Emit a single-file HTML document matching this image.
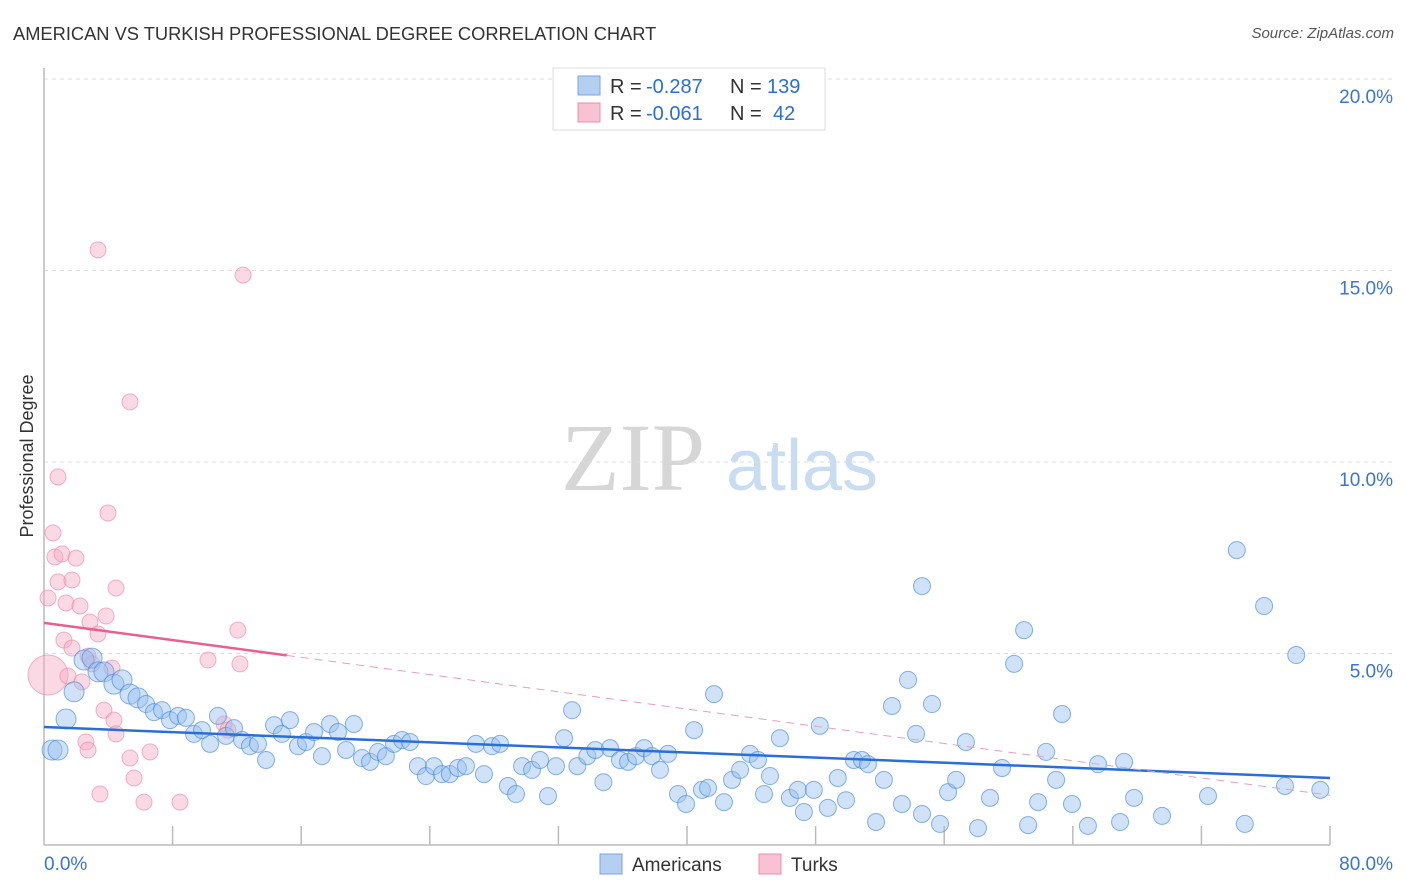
<!DOCTYPE html>
<html><head><meta charset="utf-8">
<style>
body{margin:0;background:#fff;font-family:"Liberation Sans",sans-serif;}
#wrap{position:relative;width:1406px;height:892px;overflow:hidden;}
.t{position:absolute;white-space:nowrap;}
</style></head>
<body>
<div id="wrap">
<div class="t" style="left:13px;top:23px;font-size:18.3px;color:#333;">AMERICAN VS TURKISH PROFESSIONAL DEGREE CORRELATION CHART</div>
<div class="t" style="right:12px;top:25px;font-size:15px;color:#555;font-style:italic;">Source: ZipAtlas.com</div>
<svg id="svg" width="1406" height="892" style="position:absolute;left:0;top:0"></svg>
</div>
<script>
const yTicks=[5,10,15,20];
const xTickLabels=["0.0%","80.0%"];
const amerX=[0.5,0.87,1.37,1.87,2.49,2.99,3.36,3.73,4.35,4.85,5.35,5.85,6.35,6.84,7.34,7.84,8.34,8.83,9.33,9.83,10.33,10.82,11.32,11.82,12.32,12.81,13.31,13.81,14.31,14.8,15.3,15.8,16.3,16.8,17.29,17.79,18.29,18.79,19.28,19.78,20.28,20.78,21.27,21.77,22.27,22.77,23.26,23.76,24.26,24.76,25.25,25.75,26.25,26.87,27.37,27.87,28.37,28.86,29.36,29.74,30.36,30.86,31.35,31.85,32.35,32.85,33.18,33.8,34.3,34.8,35.21,35.83,36.33,36.83,37.33,37.82,38.32,38.82,39.44,39.94,40.44,40.93,41.31,41.68,42.3,42.8,43.3,43.92,44.41,44.79,45.16,45.78,46.4,46.9,47.27,47.89,48.26,48.76,49.38,49.89,50.38,50.88,51.26,51.76,52.25,52.75,53.37,53.75,54.25,54.62,55.24,55.74,56.24,56.74,54.62,57.35,58.1,58.85,59.6,60.35,60.97,61.22,61.84,62.34,62.96,63.33,63.95,64.94,65.57,66.94,67.19,67.81,69.55,72.41,74.2,74.7,75.9,77.2,77.9,79.4];
const amerY=[2.48,2.48,3.29,4.0,4.83,4.88,4.52,4.52,4.2,4.31,3.94,3.84,3.68,3.47,3.52,3.26,3.37,3.32,2.9,3.0,2.64,3.37,2.85,3.05,2.74,2.58,2.64,2.22,3.13,2.9,3.26,2.58,2.69,2.95,2.32,3.16,2.95,2.48,3.16,2.27,2.17,2.43,2.32,2.64,2.74,2.69,2.06,1.8,2.06,1.85,1.85,2.01,2.06,2.64,1.85,2.58,2.64,1.54,1.33,2.06,1.96,2.22,1.28,2.06,2.79,3.52,2.06,2.32,2.48,1.64,2.53,2.22,2.17,2.32,2.53,2.32,1.96,2.38,1.33,1.07,3.0,1.44,1.49,3.94,1.12,1.7,1.96,2.38,2.22,1.33,1.8,2.79,1.23,1.44,0.86,1.44,3.11,0.97,1.75,1.17,2.22,2.22,2.11,0.6,1.7,3.63,1.07,4.31,2.9,0.81,3.68,0.55,1.38,1.7,6.76,2.69,0.44,1.23,2.01,4.73,5.61,0.52,1.12,2.43,1.7,3.42,1.07,0.5,2.11,0.6,2.17,1.23,0.76,1.28,7.7,0.55,6.24,1.54,4.96,1.44];
const turkX=[0.25,0.25,0.56,0.68,0.87,1.12,0.87,1.37,1.24,1.74,1.74,1.99,2.24,1.49,2.36,2.74,2.86,3.36,3.86,4.23,3.98,4.48,3.36,3.73,4.35,4.48,2.61,2.74,3.48,5.35,5.6,5.35,6.22,6.6,8.46,10.2,11.2,12.06,12.19,12.38,11.44,2.99];
const turkY=[4.44,6.45,8.15,7.52,6.87,7.6,9.61,6.32,5.35,6.92,5.14,7.49,6.24,4.41,4.26,4.93,5.82,5.51,5.98,4.62,8.67,6.71,15.54,3.52,3.26,2.9,2.69,2.48,1.33,2.27,1.75,11.57,1.12,2.43,1.12,4.83,3.16,5.61,4.73,14.88,3.0,4.73];
const amerTrend=[3.08,1.75];
const turkTrend=[5.8,1.3];

const NS="http://www.w3.org/2000/svg";
const svg=document.getElementById('svg');
const X0=44,X1=1330,Y0=845,PX=38.3;
const sx=v=>X0+(v/80)*(X1-X0);
const sy=v=>Y0-v*PX;
function mk(tag,a,p){const e=document.createElementNS(NS,tag);for(const k in a)e.setAttribute(k,a[k]);(p||svg).appendChild(e);return e;}

let w1=mk('text',{x:633,y:490,'font-size':96,'font-family':'Liberation Serif,serif',fill:'#d6d6d6','text-anchor':'middle'});w1.textContent='ZIP';


let w2=mk('text',{x:802,y:490,'font-size':72,'font-family':'Liberation Sans,sans-serif',fill:'#c8dcf2','text-anchor':'middle'});w2.textContent='atlas';



yTicks.forEach(t=>{
  const g=mk('line',{x1:X0,x2:1394,y1:sy(t),y2:sy(t),stroke:'#dcdcdc','stroke-dasharray':'4,4'});
  
  
  const l=mk('text',{x:1393,y:sy(t)+24,'font-size':19,fill:'#3a74d4','text-anchor':'end'});
  l.textContent=t.toFixed(1)+'%';
  
  
});
let ax=mk('line',{x1:X0,x2:X0,y1:68,y2:Y0,stroke:'#bbb','stroke-width':1.5});


let bx=mk('line',{x1:X0,x2:X1,y1:Y0,y2:Y0,stroke:'#bbb','stroke-width':1.5});


for(let i=1;i<=10;i++){
  const tk=mk('line',{x1:sx(i*8),x2:sx(i*8),y1:Y0,y2:Y0-19,stroke:'#bbb','stroke-width':1.5});
  
  
}
let xl0=mk('text',{x:44,y:870,'font-size':19,fill:'#3a74d4'});xl0.textContent=xTickLabels[0];


let xl1=mk('text',{x:1393,y:870,'font-size':19,fill:'#3a74d4','text-anchor':'end'});xl1.textContent=xTickLabels[1];


let yt=mk('text',{x:0,y:0,'font-size':18,fill:'#333','text-anchor':'middle',transform:'translate(33,456) rotate(-90)'});yt.textContent='Professional Degree';



turkX.forEach((x,i)=>{
  const c=mk('circle',{cx:sx(x),cy:sy(turkY[i]),r:i===0?20:8,fill:'rgba(246,170,195,0.45)',stroke:'rgba(236,130,165,0.6)','stroke-width':1});
  
  
});
amerX.forEach((x,i)=>{
  const c=mk('circle',{cx:sx(x),cy:sy(amerY[i]),r:x<6?10:8.5,fill:'rgba(150,190,240,0.45)',stroke:'rgba(60,130,220,0.6)','stroke-width':1});
  
  
});
let bt=mk('line',{x1:sx(0),y1:sy(amerTrend[0]),x2:sx(80),y2:sy(amerTrend[1]),stroke:'#2a6fd6','stroke-width':2.5});


const tAt=x=>turkTrend[0]+(turkTrend[1]-turkTrend[0])*x/80;
let pt=mk('line',{x1:sx(0),y1:sy(tAt(0)),x2:sx(15.1),y2:sy(tAt(15.1)),stroke:'#e8608e','stroke-width':2.5});


let pd=mk('line',{x1:sx(15.1),y1:sy(tAt(15.1)),x2:sx(80),y2:sy(tAt(80)),stroke:'#e8a0b8','stroke-width':1,'stroke-dasharray':'8,6'});



let lg=mk('g',{});


mk('rect',{x:553,y:68,width:272,height:62,fill:'#fff',stroke:'#ddd'},lg);
mk('rect',{x:578,y:76,width:22,height:19,fill:'#b4cff2',stroke:'#7aa6e0'},lg);
mk('rect',{x:578,y:103,width:22,height:19,fill:'#f9c2d3',stroke:'#ee8fae'},lg);
const rows=[["-0.287","139",93,767],["-0.061","42",120,773]];
rows.forEach(r=>{
  const t1=mk('text',{x:610,y:r[2],'font-size':20,fill:'#333'},lg);
  t1.textContent='R = ';
  
  
  const t2=mk('text',{x:646,y:r[2],'font-size':20,fill:'#2a6fd6'},lg);
  t2.textContent=r[0];
  
  
  const t3=mk('text',{x:730,y:r[2],'font-size':20,fill:'#333'},lg);
  t3.textContent='N =';
  
  
  const t4=mk('text',{x:r[3],y:r[2],'font-size':20,fill:'#2a6fd6'},lg);
  t4.textContent=r[1];
  
  
});
let bl=mk('g',{});


mk('rect',{x:600,y:854,width:22,height:20,fill:'#b4cff2',stroke:'#7aa6e0'},bl);
let la=mk('text',{x:632,y:871,'font-size':19,fill:'#333'},bl);la.textContent='Americans';


mk('rect',{x:759,y:854,width:22,height:20,fill:'#f9c2d3',stroke:'#ee8fae'},bl);
let lt=mk('text',{x:791,y:871,'font-size':19,fill:'#333'},bl);lt.textContent='Turks';


</script>
</body></html>
